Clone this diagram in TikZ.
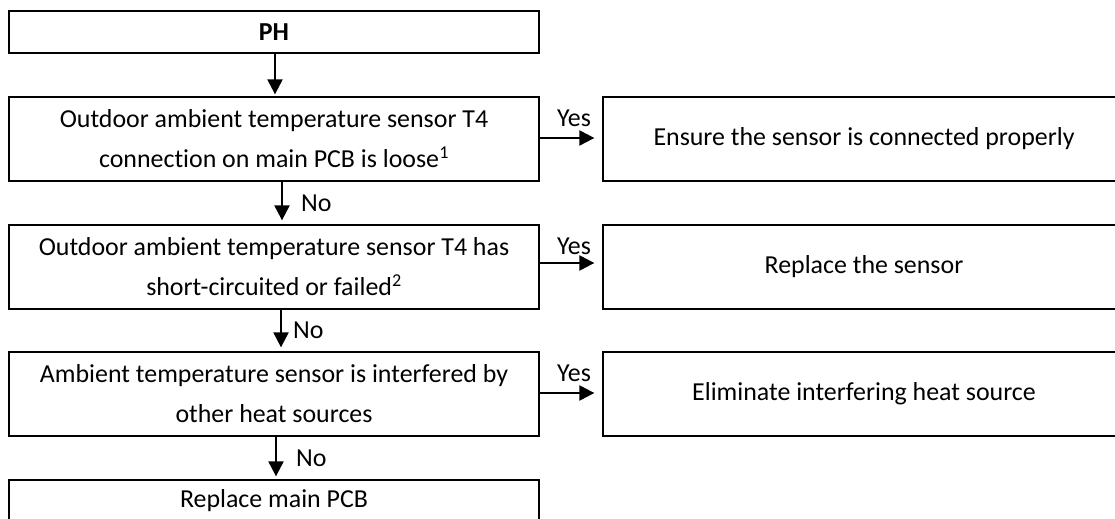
\documentclass[tikz,border=0pt]{standalone}
\usepackage{fontspec}
\setmainfont{Carlito}[Ligatures=NoCommon]
\usepackage{tikz}
\usetikzlibrary{arrows.meta}
\tikzset{
  box/.style={draw, line width=1.3bp, minimum width=530bp, minimum height=84bp,
    inner sep=0pt, align=center, font=\fontsize{26}{40}\selectfont},
  flow/.style={line width=2.2bp, -{Triangle[width=15bp,length=15bp]}},
  answer/.style={inner sep=0pt, font=\fontsize{26}{30}\selectfont}
}

\begin{document}
\begin{tikzpicture}[x=1bp,y=-1bp]
  \clip (0,0) rectangle (1115,519);
  \node[box, minimum height=42bp] (ph) at (274,32) {\textbf{PH}};
  \node[box] (loose) at (274,139) {Outdoor ambient temperature sensor T4\\connection on main PCB is loose\textsuperscript{1}};
  \node[box] (short) at (274,267) {Outdoor ambient temperature sensor T4 has\\short-circuited or failed\textsuperscript{2}};
  \node[box] (heat) at (274,394) {Ambient temperature sensor is interfered by\\other heat sources};
  \node[box, minimum height=42bp] (pcb) at (274,501) {Replace main PCB};
  \node[box, minimum width=522bp] (connect) at (864,139) {Ensure the sensor is connected properly};
  \node[box, minimum width=522bp] (sensor) at (864,267) {Replace the sensor};
  \node[box, minimum width=522bp] (source) at (864,394) {Eliminate interfering heat source};

  \draw[flow, shorten >=2bp] ([xshift=1bp]ph.south) -- ([xshift=1bp]loose.north);
  \draw[flow, shorten >=4bp] ([xshift=8bp]loose.south) -- ([xshift=8bp]short.north)
    node[answer, midway, right, xshift=18bp] {No};
  \draw[flow, shorten >=4bp] ([xshift=7bp]short.south) -- ([xshift=7bp]heat.north)
    node[answer, midway, right, xshift=11bp] {No};
  \draw[flow, shorten >=3bp] ([xshift=2bp]heat.south) -- ([xshift=2bp]pcb.north)
    node[answer, midway, right, xshift=19bp] {No};

  \draw[flow, shorten >=8bp] ([yshift=1bp]loose.east) -- ([yshift=1bp]connect.west)
    node[answer, midway, above, xshift=3bp, yshift=10bp] {Yes};
  \draw[flow, shorten >=8bp] ([yshift=4bp]short.east) -- ([yshift=4bp]sensor.west)
    node[answer, midway, above, xshift=3bp, yshift=7bp] {Yes};
  \draw[flow, shorten >=8bp] ([yshift=1bp]heat.east) -- ([yshift=1bp]source.west)
    node[answer, midway, above, xshift=3bp, yshift=10bp] {Yes};
\end{tikzpicture}
\end{document}
